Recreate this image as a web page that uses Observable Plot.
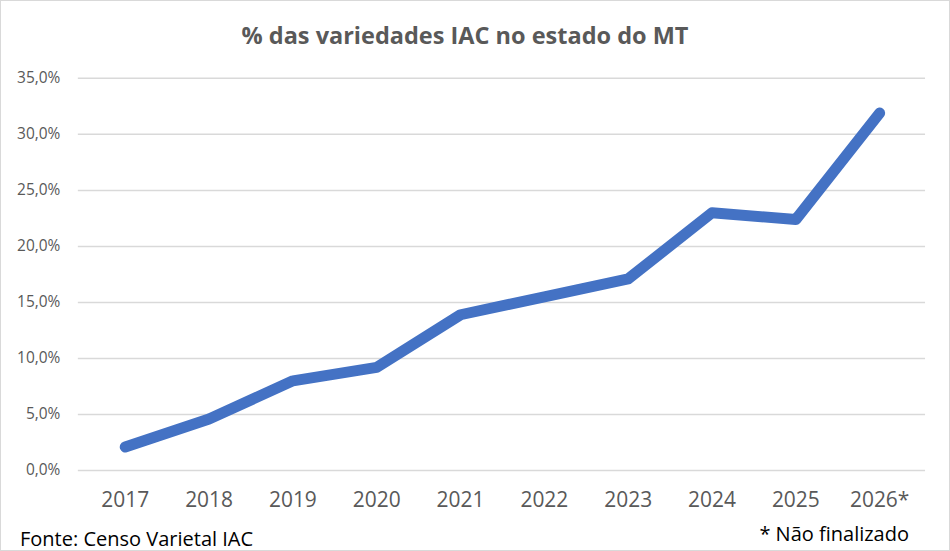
<!DOCTYPE html>
<html>
<head>
<meta charset="utf-8">
<script src="https://cdn.jsdelivr.net/npm/d3@7"></script>
<script src="https://cdn.jsdelivr.net/npm/@observablehq/plot@0.6"></script>
<style>
  html, body { margin: 0; padding: 0; background: #fff; }
  #wrap { position: relative; width: 950px; height: 551px; box-sizing: border-box; border: 1px solid #d9d9d9; overflow: hidden; font-family: "Open Sans", sans-serif; }
  #title { position: absolute; top: 18px; left: 0; width: 928px; text-align: center; font-size: 23.5px; font-weight: bold; color: #595959; }
  #fonte { position: absolute; left: 19px; top: 524px; font-size: 20px; color: #000; }
  #nota { position: absolute; right: 40px; top: 519px; font-size: 20px; color: #000; }
  svg { position: absolute; left: -1px; top: -1px; }
</style>
</head>
<body>
<div id="wrap">
  <div id="title">% das variedades IAC no estado do MT</div>
  <div id="chart"></div>
  <div id="fonte">Fonte: Censo Varietal IAC</div>
  <div id="nota">* Não finalizado</div>
</div>
<script>
const years = ["2017", "2018", "2019", "2020", "2021", "2022", "2023", "2024", "2025", "2026*"];
const shares = [2.1, 4.6, 8.0, 9.2, 13.9, 15.5, 17.1, 23.0, 22.4, 31.9];
const yTicks = [0, 5, 10, 15, 20, 25, 30, 35];

const data = years.map((y, i) => ({year: y, value: shares[i]}));
const fmt = v => v.toFixed(1).replace(".", ",") + "%";

const chart = Plot.plot({
  width: 950,
  height: 551,
  marginTop: 78,
  marginBottom: 80,
  marginLeft: 78,
  marginRight: 23,
  style: {background: "transparent", fontFamily: "Open Sans, sans-serif"},
  x: {type: "point", domain: years, padding: 0.5, label: null},
  y: {domain: [0, 35], ticks: yTicks, label: null},
  marks: [
    Plot.gridY(yTicks, {stroke: "#d9d9d9", strokeOpacity: 1, strokeWidth: 1.5}),
    Plot.axisY(yTicks, {tickSize: 0, tickPadding: 18, tickFormat: fmt, fontSize: 15.5, fill: "#595959", label: null}),
    Plot.axisX({tickSize: 0, tickPadding: 22, fontSize: 21, fill: "#595959", label: null}),
    Plot.line(data, {x: "year", y: "value", stroke: "#4472C4", strokeWidth: 11, strokeLinecap: "round", strokeLinejoin: "round"})
  ]
});
document.getElementById("chart").appendChild(chart);
</script>
</body>
</html>
